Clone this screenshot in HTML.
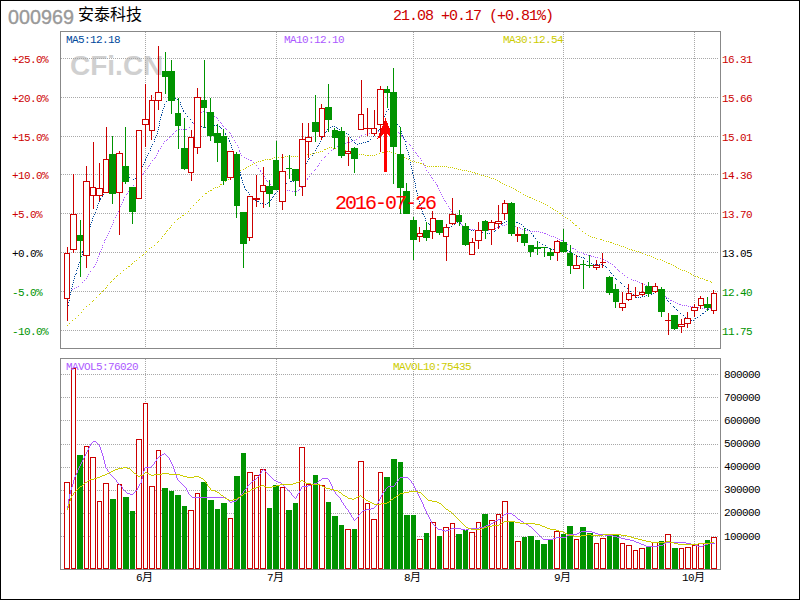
<!DOCTYPE html>
<html><head><meta charset="utf-8"><title>000969</title><style>html,body{margin:0;padding:0;background:#fff;overflow:hidden}svg text{white-space:pre}</style></head><body><svg width="800" height="600" viewBox="0 0 800 600" shape-rendering="crispEdges" style="display:block"><rect x="0" y="0" width="800" height="600" fill="#ffffff"/>
<rect x="0" y="0" width="800" height="1" fill="#000"/>
<rect x="0" y="599" width="800" height="1" fill="#000"/>
<rect x="0" y="0" width="1" height="600" fill="#000"/>
<rect x="799" y="0" width="1" height="600" fill="#000"/>
<rect x="60" y="31" width="661" height="1" fill="#888888"/>
<rect x="60" y="348" width="661" height="1" fill="#888888"/>
<rect x="60" y="31" width="1" height="318" fill="#888888"/>
<rect x="720" y="31" width="1" height="318" fill="#888888"/>
<rect x="60" y="358" width="661" height="1" fill="#888888"/>
<rect x="60" y="569" width="661" height="1" fill="#888888"/>
<rect x="60" y="358" width="1" height="212" fill="#888888"/>
<rect x="720" y="358" width="1" height="212" fill="#888888"/>
<text x="70" y="75" font-size="28" font-weight="bold" fill="#d0d0d0" font-family="'Liberation Sans', sans-serif">CFi.CN</text>
<path d="M61 58.5H718M61 97.5H718M61 136.5H718M61 174.5H718M61 213.5H718M61 252.5H718M61 291.5H718M61 330.5H718M61 374.5H718M61 397.5H718M61 420.5H718M61 444.5H718M61 467.5H718M61 490.5H718M61 513.5H718M61 536.5H718" stroke="#a8a8a8" stroke-width="1" stroke-dasharray="1 1" fill="none"/>
<path d="M145.5 32V348M145.5 359V569M276.5 32V348M276.5 359V569M413.5 32V348M413.5 359V569M563.5 32V348M563.5 359V569M694.5 32V348M694.5 359V569" stroke="#a8a8a8" stroke-width="1" stroke-dasharray="1 1" fill="none"/>
<path d="M171 98h1v1h-1zM173 98h1v1h-1zM175 98h1v1h-1zM170 99h1v1h-1zM177 99h1v1h-1zM166 101h1v1h-1zM180 102h1v1h-1zM164 104h1v1h-1zM180 104h1v1h-1zM164 106h1v1h-1zM181 106h1v1h-1zM163 108h1v1h-1zM182 108h1v1h-1zM390 108h1v1h-1zM388 109h1v1h-1zM391 109h1v1h-1zM162 110h1v1h-1zM183 110h1v1h-1zM183 111h1v1h-1zM386 111h1v1h-1zM392 111h1v1h-1zM162 112h1v1h-1zM185 113h1v1h-1zM393 113h1v1h-1zM161 114h1v1h-1zM385 114h1v1h-1zM161 115h1v1h-1zM394 115h1v1h-1zM187 116h1v1h-1zM384 116h1v1h-1zM160 117h1v1h-1zM394 117h1v1h-1zM383 118h1v1h-1zM160 119h1v1h-1zM190 119h1v1h-1zM395 119h1v1h-1zM382 120h1v1h-1zM159 121h1v1h-1zM396 121h1v1h-1zM192 122h1v1h-1zM396 122h1v1h-1zM159 123h1v1h-1zM194 123h1v1h-1zM381 123h1v1h-1zM195 124h1v1h-1zM397 124h1v1h-1zM159 125h1v1h-1zM198 125h2v1h-2zM214 125h1v1h-1zM216 125h1v1h-1zM380 125h1v1h-1zM201 126h1v1h-1zM212 126h1v1h-1zM219 126h1v1h-1zM332 126h1v1h-1zM334 126h1v1h-1zM399 126h1v1h-1zM158 127h1v1h-1zM203 127h1v1h-1zM205 127h1v1h-1zM207 127h1v1h-1zM209 127h1v1h-1zM211 127h1v1h-1zM220 127h1v1h-1zM330 127h1v1h-1zM336 127h1v1h-1zM380 127h1v1h-1zM400 127h1v1h-1zM221 128h1v1h-1zM328 128h1v1h-1zM337 128h1v1h-1zM158 129h1v1h-1zM327 129h1v1h-1zM339 129h1v1h-1zM379 129h1v1h-1zM400 129h1v1h-1zM341 130h1v1h-1zM378 130h1v1h-1zM157 131h1v1h-1zM223 131h1v1h-1zM326 131h1v1h-1zM343 131h1v1h-1zM401 131h1v1h-1zM325 132h1v1h-1zM157 133h1v1h-1zM225 133h1v1h-1zM346 133h1v1h-1zM375 133h1v1h-1zM401 133h1v1h-1zM225 134h1v1h-1zM324 134h1v1h-1zM348 134h1v1h-1zM156 135h1v1h-1zM402 135h1v1h-1zM226 136h1v1h-1zM323 136h1v1h-1zM373 136h1v1h-1zM155 137h1v1h-1zM322 137h1v1h-1zM350 137h1v1h-1zM403 137h1v1h-1zM228 138h1v1h-1zM154 139h1v1h-1zM321 139h1v1h-1zM351 139h1v1h-1zM370 139h1v1h-1zM404 139h1v1h-1zM229 140h1v1h-1zM352 140h1v1h-1zM154 141h1v1h-1zM229 141h1v1h-1zM320 141h1v1h-1zM367 141h2v1h-2zM405 141h1v1h-1zM354 142h1v1h-1zM363 142h1v1h-1zM365 142h1v1h-1zM230 143h1v1h-1zM319 143h1v1h-1zM355 143h1v1h-1zM359 143h1v1h-1zM361 143h1v1h-1zM152 144h1v1h-1zM357 144h1v1h-1zM405 144h1v1h-1zM231 145h1v1h-1zM318 145h1v1h-1zM151 146h1v1h-1zM317 146h1v1h-1zM406 146h1v1h-1zM231 147h1v1h-1zM150 148h1v1h-1zM316 148h1v1h-1zM406 148h1v1h-1zM232 149h1v1h-1zM150 150h1v1h-1zM315 150h1v1h-1zM407 150h1v1h-1zM233 151h1v1h-1zM408 152h1v1h-1zM148 153h1v1h-1zM233 153h1v1h-1zM313 153h1v1h-1zM408 154h1v1h-1zM147 155h1v1h-1zM234 155h1v1h-1zM312 155h1v1h-1zM409 156h1v1h-1zM146 157h1v1h-1zM235 157h1v1h-1zM309 158h1v1h-1zM409 158h1v1h-1zM145 159h1v1h-1zM235 159h1v1h-1zM308 159h1v1h-1zM145 160h1v1h-1zM236 160h1v1h-1zM410 160h1v1h-1zM307 161h1v1h-1zM144 162h1v1h-1zM236 162h1v1h-1zM410 162h1v1h-1zM306 163h1v1h-1zM143 164h1v1h-1zM237 164h1v1h-1zM410 164h1v1h-1zM304 165h1v1h-1zM142 166h1v1h-1zM238 166h1v1h-1zM304 166h1v1h-1zM411 166h1v1h-1zM238 168h1v1h-1zM302 168h1v1h-1zM411 168h1v1h-1zM140 169h1v1h-1zM239 170h1v1h-1zM301 170h1v1h-1zM412 170h1v1h-1zM139 171h1v1h-1zM300 171h1v1h-1zM240 172h1v1h-1zM412 172h1v1h-1zM138 173h1v1h-1zM299 173h1v1h-1zM412 173h1v1h-1zM240 174h1v1h-1zM137 175h1v1h-1zM240 175h1v1h-1zM413 175h1v1h-1zM136 176h1v1h-1zM297 176h1v1h-1zM127 177h1v1h-1zM129 177h1v1h-1zM241 177h1v1h-1zM413 177h1v1h-1zM123 178h1v1h-1zM125 178h1v1h-1zM135 178h1v1h-1zM241 178h1v1h-1zM295 178h1v1h-1zM122 179h1v1h-1zM133 179h1v1h-1zM295 179h1v1h-1zM414 179h1v1h-1zM242 180h1v1h-1zM119 181h1v1h-1zM290 181h2v1h-2zM293 181h1v1h-1zM414 181h1v1h-1zM242 182h1v1h-1zM117 183h1v1h-1zM286 183h1v1h-1zM415 183h1v1h-1zM243 184h1v1h-1zM114 185h1v1h-1zM415 185h1v1h-1zM112 186h1v1h-1zM244 186h1v1h-1zM283 186h1v1h-1zM244 187h1v1h-1zM415 187h1v1h-1zM109 188h1v1h-1zM280 188h1v1h-1zM245 189h1v1h-1zM246 190h1v1h-1zM416 190h1v1h-1zM106 191h1v1h-1zM277 191h1v1h-1zM416 191h1v1h-1zM248 192h1v1h-1zM275 193h1v1h-1zM417 193h1v1h-1zM103 194h1v1h-1zM249 194h1v1h-1zM274 194h1v1h-1zM417 195h1v1h-1zM102 196h1v1h-1zM273 196h1v1h-1zM252 197h1v1h-1zM272 197h1v1h-1zM418 197h1v1h-1zM100 198h1v1h-1zM100 199h1v1h-1zM271 199h1v1h-1zM418 199h1v1h-1zM255 200h1v1h-1zM270 200h1v1h-1zM99 201h1v1h-1zM257 201h2v1h-2zM419 201h1v1h-1zM268 202h1v1h-1zM98 203h1v1h-1zM260 203h1v1h-1zM262 203h1v1h-1zM267 203h1v1h-1zM419 203h1v1h-1zM263 204h1v1h-1zM265 204h1v1h-1zM97 205h1v1h-1zM420 205h1v1h-1zM97 207h1v1h-1zM421 207h1v1h-1zM96 209h1v1h-1zM421 209h1v1h-1zM422 211h1v1h-1zM95 212h1v1h-1zM422 213h1v1h-1zM94 214h1v1h-1zM423 214h1v1h-1zM93 216h1v1h-1zM424 216h1v1h-1zM92 218h1v1h-1zM425 218h1v1h-1zM92 220h1v1h-1zM425 220h1v1h-1zM506 221h1v1h-1zM508 221h1v1h-1zM510 221h1v1h-1zM512 221h1v1h-1zM91 222h1v1h-1zM457 222h1v1h-1zM459 222h1v1h-1zM504 222h1v1h-1zM514 222h1v1h-1zM516 222h2v1h-2zM428 223h1v1h-1zM455 223h1v1h-1zM460 223h1v1h-1zM502 223h1v1h-1zM519 223h1v1h-1zM90 224h1v1h-1zM429 224h1v1h-1zM454 224h1v1h-1zM501 224h1v1h-1zM521 224h1v1h-1zM462 225h1v1h-1zM90 226h1v1h-1zM431 226h1v1h-1zM451 226h1v1h-1zM464 226h1v1h-1zM499 226h1v1h-1zM523 226h1v1h-1zM449 227h1v1h-1zM498 227h1v1h-1zM434 228h1v1h-1zM447 228h1v1h-1zM467 228h1v1h-1zM525 228h1v1h-1zM89 229h1v1h-1zM436 229h1v1h-1zM438 229h1v1h-1zM440 229h1v1h-1zM442 229h1v1h-1zM444 229h2v1h-2zM469 229h1v1h-1zM527 229h1v1h-1zM471 230h1v1h-1zM473 230h1v1h-1zM475 230h1v1h-1zM477 230h1v1h-1zM495 230h1v1h-1zM529 230h1v1h-1zM88 231h1v1h-1zM479 231h1v1h-1zM494 231h1v1h-1zM482 232h1v1h-1zM88 233h1v1h-1zM485 233h1v1h-1zM487 233h1v1h-1zM489 233h1v1h-1zM491 233h1v1h-1zM531 233h1v1h-1zM87 235h1v1h-1zM533 235h1v1h-1zM533 236h1v1h-1zM86 237h1v1h-1zM535 238h1v1h-1zM86 239h1v1h-1zM85 241h1v1h-1zM537 241h1v1h-1zM539 242h1v1h-1zM85 243h1v1h-1zM542 244h1v1h-1zM84 245h1v1h-1zM545 245h1v1h-1zM84 247h1v1h-1zM547 247h1v1h-1zM549 248h1v1h-1zM83 249h1v1h-1zM551 249h1v1h-1zM553 249h1v1h-1zM555 249h1v1h-1zM557 249h1v1h-1zM560 250h2v1h-2zM563 250h1v1h-1zM565 250h1v1h-1zM567 250h1v1h-1zM82 251h1v1h-1zM569 251h1v1h-1zM82 252h1v1h-1zM571 252h1v1h-1zM82 254h1v1h-1zM574 254h1v1h-1zM576 255h1v1h-1zM81 256h1v1h-1zM577 256h1v1h-1zM579 256h1v1h-1zM581 257h1v1h-1zM583 257h1v1h-1zM80 258h1v1h-1zM584 258h1v1h-1zM80 260h1v1h-1zM587 261h1v1h-1zM79 262h1v1h-1zM589 262h1v1h-1zM591 263h1v1h-1zM78 264h1v1h-1zM593 264h1v1h-1zM595 264h1v1h-1zM597 264h1v1h-1zM599 264h1v1h-1zM601 264h1v1h-1zM603 265h1v1h-1zM78 266h1v1h-1zM605 266h1v1h-1zM606 267h1v1h-1zM77 268h1v1h-1zM76 270h1v1h-1zM609 270h1v1h-1zM610 272h1v1h-1zM76 273h1v1h-1zM611 273h1v1h-1zM75 274h1v1h-1zM613 275h1v1h-1zM74 276h1v1h-1zM74 278h1v1h-1zM615 278h1v1h-1zM616 279h1v1h-1zM73 280h1v1h-1zM73 282h1v1h-1zM620 282h1v1h-1zM621 283h1v1h-1zM72 284h1v1h-1zM72 286h1v1h-1zM624 286h1v1h-1zM71 288h1v1h-1zM627 288h1v1h-1zM71 290h1v1h-1zM630 291h1v1h-1zM657 291h1v1h-1zM70 292h1v1h-1zM655 292h1v1h-1zM658 292h1v1h-1zM631 293h1v1h-1zM653 293h1v1h-1zM660 293h1v1h-1zM70 294h1v1h-1zM633 294h1v1h-1zM651 294h1v1h-1zM634 295h1v1h-1zM646 295h1v1h-1zM648 295h1v1h-1zM663 295h1v1h-1zM69 296h1v1h-1zM642 296h1v1h-1zM644 296h1v1h-1zM636 297h1v1h-1zM638 297h1v1h-1zM640 297h1v1h-1zM69 298h1v1h-1zM666 298h1v1h-1zM69 300h1v1h-1zM667 300h1v1h-1zM668 301h1v1h-1zM68 302h1v1h-1zM670 303h1v1h-1zM68 305h1v1h-1zM673 306h1v1h-1zM674 307h1v1h-1zM712 307h1v1h-1zM710 308h1v1h-1zM676 309h1v1h-1zM708 309h1v1h-1zM677 310h1v1h-1zM705 311h1v1h-1zM680 313h1v1h-1zM702 313h2v1h-2zM683 315h1v1h-1zM700 315h1v1h-1zM685 317h1v1h-1zM697 317h1v1h-1zM695 318h1v1h-1zM688 319h1v1h-1zM690 320h2v1h-2zM693 320h1v1h-1z" fill="#00489c"/>
<path d="M203 111h1v1h-1zM201 112h1v1h-1zM206 112h1v1h-1zM209 113h1v1h-1zM211 114h1v1h-1zM199 115h1v1h-1zM214 116h1v1h-1zM197 117h1v1h-1zM216 117h1v1h-1zM197 118h1v1h-1zM217 118h1v1h-1zM195 120h1v1h-1zM218 120h1v1h-1zM194 122h1v1h-1zM220 122h1v1h-1zM193 123h1v1h-1zM221 123h1v1h-1zM222 125h1v1h-1zM223 126h1v1h-1zM189 127h1v1h-1zM225 128h1v1h-1zM178 129h2v1h-2zM181 129h1v1h-1zM183 129h1v1h-1zM185 129h2v1h-2zM226 129h1v1h-1zM176 130h1v1h-1zM380 130h2v1h-2zM383 130h1v1h-1zM385 130h1v1h-1zM387 130h1v1h-1zM389 130h1v1h-1zM391 130h1v1h-1zM394 130h1v1h-1zM175 131h1v1h-1zM375 131h2v1h-2zM378 131h1v1h-1zM396 131h1v1h-1zM229 132h1v1h-1zM373 132h1v1h-1zM398 132h1v1h-1zM173 133h1v1h-1zM230 133h1v1h-1zM367 133h1v1h-1zM369 133h1v1h-1zM371 133h1v1h-1zM399 133h1v1h-1zM172 134h1v1h-1zM365 134h1v1h-1zM231 135h1v1h-1zM361 135h1v1h-1zM401 135h1v1h-1zM170 136h1v1h-1zM402 136h1v1h-1zM169 137h1v1h-1zM232 137h1v1h-1zM359 137h1v1h-1zM403 138h1v1h-1zM167 139h1v1h-1zM356 139h1v1h-1zM166 140h1v1h-1zM234 140h1v1h-1zM354 140h1v1h-1zM164 141h1v1h-1zM351 141h1v1h-1zM406 141h1v1h-1zM235 142h1v1h-1zM347 142h1v1h-1zM349 142h1v1h-1zM163 143h1v1h-1zM344 143h2v1h-2zM342 144h1v1h-1zM409 144h1v1h-1zM237 145h1v1h-1zM340 145h1v1h-1zM410 145h1v1h-1zM161 146h1v1h-1zM337 146h1v1h-1zM238 147h1v1h-1zM160 148h1v1h-1zM335 148h1v1h-1zM412 148h1v1h-1zM333 149h1v1h-1zM158 150h1v1h-1zM239 150h1v1h-1zM331 150h1v1h-1zM413 150h1v1h-1zM158 151h1v1h-1zM239 151h1v1h-1zM415 152h1v1h-1zM157 153h1v1h-1zM240 153h1v1h-1zM328 153h1v1h-1zM416 153h1v1h-1zM156 155h1v1h-1zM241 155h1v1h-1zM417 155h1v1h-1zM325 156h1v1h-1zM418 156h1v1h-1zM155 157h1v1h-1zM244 157h1v1h-1zM324 157h1v1h-1zM154 158h1v1h-1zM246 158h1v1h-1zM420 158h1v1h-1zM248 159h1v1h-1zM152 160h1v1h-1zM250 160h2v1h-2zM321 160h1v1h-1zM421 160h1v1h-1zM253 162h1v1h-1zM150 163h1v1h-1zM254 163h1v1h-1zM319 163h1v1h-1zM423 163h1v1h-1zM149 165h1v1h-1zM256 165h1v1h-1zM318 165h1v1h-1zM424 165h1v1h-1zM148 166h1v1h-1zM317 166h1v1h-1zM425 167h1v1h-1zM147 168h1v1h-1zM258 168h1v1h-1zM315 169h1v1h-1zM260 170h1v1h-1zM314 170h1v1h-1zM426 170h1v1h-1zM144 171h1v1h-1zM260 171h1v1h-1zM428 172h1v1h-1zM143 173h1v1h-1zM262 173h1v1h-1zM311 173h1v1h-1zM142 174h1v1h-1zM263 175h1v1h-1zM430 175h1v1h-1zM141 176h1v1h-1zM264 176h1v1h-1zM309 176h1v1h-1zM140 177h1v1h-1zM431 177h1v1h-1zM265 178h1v1h-1zM307 178h1v1h-1zM432 178h1v1h-1zM138 179h1v1h-1zM307 179h1v1h-1zM266 180h1v1h-1zM305 180h1v1h-1zM433 180h1v1h-1zM267 181h1v1h-1zM136 182h1v1h-1zM304 182h1v1h-1zM435 182h1v1h-1zM270 184h1v1h-1zM303 184h1v1h-1zM436 184h1v1h-1zM133 185h1v1h-1zM302 185h1v1h-1zM437 185h1v1h-1zM272 186h2v1h-2zM437 186h1v1h-1zM301 187h1v1h-1zM131 188h1v1h-1zM275 188h1v1h-1zM277 188h1v1h-1zM438 188h1v1h-1zM279 189h1v1h-1zM299 189h1v1h-1zM129 190h1v1h-1zM281 190h1v1h-1zM283 190h1v1h-1zM285 190h1v1h-1zM287 190h1v1h-1zM289 190h1v1h-1zM298 190h1v1h-1zM439 190h1v1h-1zM128 191h1v1h-1zM292 191h1v1h-1zM294 191h1v1h-1zM296 191h1v1h-1zM440 192h1v1h-1zM127 193h1v1h-1zM126 194h1v1h-1zM441 194h1v1h-1zM442 196h1v1h-1zM124 197h1v1h-1zM443 198h1v1h-1zM123 199h1v1h-1zM123 200h1v1h-1zM444 200h1v1h-1zM445 201h1v1h-1zM122 202h1v1h-1zM446 203h1v1h-1zM121 204h1v1h-1zM120 206h1v1h-1zM448 206h1v1h-1zM119 208h1v1h-1zM449 208h1v1h-1zM119 209h1v1h-1zM450 209h1v1h-1zM118 211h1v1h-1zM451 211h1v1h-1zM117 213h1v1h-1zM453 214h1v1h-1zM116 215h1v1h-1zM455 216h1v1h-1zM115 217h1v1h-1zM456 218h1v1h-1zM457 219h1v1h-1zM113 220h1v1h-1zM113 222h1v1h-1zM460 222h1v1h-1zM112 224h1v1h-1zM461 224h1v1h-1zM506 224h1v1h-1zM462 225h1v1h-1zM502 225h1v1h-1zM504 225h1v1h-1zM508 225h1v1h-1zM510 225h1v1h-1zM512 225h1v1h-1zM111 226h1v1h-1zM464 226h1v1h-1zM515 226h1v1h-1zM466 227h1v1h-1zM497 227h1v1h-1zM499 227h1v1h-1zM517 227h1v1h-1zM519 227h1v1h-1zM110 228h1v1h-1zM468 228h1v1h-1zM495 228h1v1h-1zM520 228h1v1h-1zM470 229h1v1h-1zM472 229h1v1h-1zM474 229h1v1h-1zM489 229h1v1h-1zM491 229h1v1h-1zM493 229h1v1h-1zM522 229h1v1h-1zM524 229h1v1h-1zM476 230h1v1h-1zM478 230h1v1h-1zM480 230h1v1h-1zM482 230h1v1h-1zM484 230h1v1h-1zM486 230h1v1h-1zM488 230h1v1h-1zM525 230h1v1h-1zM527 230h1v1h-1zM109 231h1v1h-1zM530 231h1v1h-1zM532 231h1v1h-1zM534 231h1v1h-1zM536 231h1v1h-1zM538 231h1v1h-1zM540 232h1v1h-1zM542 232h1v1h-1zM108 233h1v1h-1zM544 233h2v1h-2zM547 234h1v1h-1zM107 235h1v1h-1zM549 235h1v1h-1zM551 236h1v1h-1zM553 236h1v1h-1zM106 237h1v1h-1zM555 237h1v1h-1zM557 238h1v1h-1zM105 239h1v1h-1zM559 239h1v1h-1zM104 240h1v1h-1zM561 240h2v1h-2zM104 242h1v1h-1zM564 242h1v1h-1zM567 244h1v1h-1zM102 245h1v1h-1zM570 246h1v1h-1zM102 247h1v1h-1zM572 248h2v1h-2zM101 249h1v1h-1zM575 249h1v1h-1zM100 251h1v1h-1zM577 251h1v1h-1zM579 252h1v1h-1zM581 252h1v1h-1zM99 253h1v1h-1zM583 253h1v1h-1zM99 254h1v1h-1zM584 254h1v1h-1zM586 254h1v1h-1zM588 255h1v1h-1zM590 255h1v1h-1zM98 256h1v1h-1zM591 256h1v1h-1zM593 256h1v1h-1zM595 257h1v1h-1zM597 257h1v1h-1zM97 258h1v1h-1zM600 258h1v1h-1zM603 259h1v1h-1zM97 260h1v1h-1zM605 260h1v1h-1zM607 261h1v1h-1zM96 262h1v1h-1zM608 262h1v1h-1zM610 263h1v1h-1zM95 264h1v1h-1zM612 264h1v1h-1zM94 266h1v1h-1zM614 266h1v1h-1zM93 267h1v1h-1zM615 267h1v1h-1zM617 269h1v1h-1zM618 270h1v1h-1zM90 271h1v1h-1zM619 271h1v1h-1zM622 273h1v1h-1zM88 274h1v1h-1zM624 275h1v1h-1zM87 276h1v1h-1zM627 277h1v1h-1zM86 278h1v1h-1zM631 279h1v1h-1zM84 280h1v1h-1zM633 280h1v1h-1zM635 280h1v1h-1zM637 281h1v1h-1zM82 282h1v1h-1zM639 282h1v1h-1zM641 283h1v1h-1zM644 284h1v1h-1zM646 285h1v1h-1zM78 286h1v1h-1zM648 286h1v1h-1zM76 287h1v1h-1zM650 287h1v1h-1zM74 288h1v1h-1zM652 288h2v1h-2zM72 289h1v1h-1zM655 289h1v1h-1zM657 290h1v1h-1zM660 292h1v1h-1zM662 294h2v1h-2zM665 296h1v1h-1zM666 297h1v1h-1zM668 298h1v1h-1zM670 300h2v1h-2zM673 301h1v1h-1zM675 302h1v1h-1zM677 303h1v1h-1zM679 304h2v1h-2zM682 305h1v1h-1zM684 305h1v1h-1zM686 305h1v1h-1zM688 306h1v1h-1zM690 306h1v1h-1zM692 306h1v1h-1zM694 307h1v1h-1zM696 307h1v1h-1zM698 307h1v1h-1zM712 307h1v1h-1zM700 308h1v1h-1zM702 308h1v1h-1zM704 308h1v1h-1zM708 308h1v1h-1zM710 308h1v1h-1zM706 309h1v1h-1z" fill="#ac59ff"/>
<path d="M329 147h1v1h-1zM331 147h1v1h-1zM327 148h1v1h-1zM333 148h1v1h-1zM335 148h1v1h-1zM324 149h2v1h-2zM338 149h1v1h-1zM340 149h1v1h-1zM342 150h1v1h-1zM345 150h1v1h-1zM320 151h1v1h-1zM322 151h1v1h-1zM347 151h1v1h-1zM349 151h1v1h-1zM387 151h1v1h-1zM389 151h1v1h-1zM316 152h1v1h-1zM318 152h1v1h-1zM351 152h1v1h-1zM353 152h1v1h-1zM382 152h2v1h-2zM385 152h1v1h-1zM391 152h1v1h-1zM312 153h1v1h-1zM314 153h1v1h-1zM355 153h1v1h-1zM357 153h1v1h-1zM379 153h1v1h-1zM393 153h1v1h-1zM395 153h1v1h-1zM307 154h1v1h-1zM310 154h1v1h-1zM359 154h1v1h-1zM361 154h1v1h-1zM363 154h1v1h-1zM376 154h1v1h-1zM397 154h1v1h-1zM303 155h1v1h-1zM305 155h1v1h-1zM365 155h1v1h-1zM367 155h2v1h-2zM370 155h1v1h-1zM372 155h1v1h-1zM374 155h1v1h-1zM399 155h1v1h-1zM285 156h1v1h-1zM287 156h1v1h-1zM289 156h1v1h-1zM291 156h1v1h-1zM293 156h1v1h-1zM295 156h1v1h-1zM297 156h1v1h-1zM299 156h1v1h-1zM301 156h1v1h-1zM401 156h2v1h-2zM274 157h1v1h-1zM276 157h1v1h-1zM278 157h1v1h-1zM281 157h1v1h-1zM283 157h1v1h-1zM404 157h1v1h-1zM272 158h1v1h-1zM406 158h1v1h-1zM265 159h1v1h-1zM267 159h1v1h-1zM269 159h2v1h-2zM408 159h1v1h-1zM262 160h2v1h-2zM410 160h1v1h-1zM258 161h1v1h-1zM260 161h1v1h-1zM412 161h1v1h-1zM414 161h1v1h-1zM256 162h1v1h-1zM416 162h1v1h-1zM418 162h1v1h-1zM254 163h1v1h-1zM420 163h2v1h-2zM252 164h1v1h-1zM423 164h1v1h-1zM250 165h1v1h-1zM425 165h1v1h-1zM248 166h1v1h-1zM427 166h1v1h-1zM429 166h1v1h-1zM431 166h1v1h-1zM433 166h1v1h-1zM435 166h2v1h-2zM438 166h1v1h-1zM440 166h1v1h-1zM442 166h1v1h-1zM444 166h1v1h-1zM446 166h1v1h-1zM246 167h1v1h-1zM448 167h1v1h-1zM450 167h1v1h-1zM452 167h1v1h-1zM245 168h1v1h-1zM454 168h1v1h-1zM456 168h1v1h-1zM243 169h1v1h-1zM458 169h1v1h-1zM460 169h1v1h-1zM240 170h1v1h-1zM462 170h1v1h-1zM464 170h1v1h-1zM466 170h1v1h-1zM468 171h1v1h-1zM470 171h1v1h-1zM237 172h2v1h-2zM472 172h1v1h-1zM474 172h1v1h-1zM475 173h1v1h-1zM477 173h1v1h-1zM235 174h1v1h-1zM479 174h1v1h-1zM481 175h1v1h-1zM483 175h1v1h-1zM232 176h1v1h-1zM485 176h1v1h-1zM487 176h1v1h-1zM489 177h1v1h-1zM230 178h1v1h-1zM491 178h1v1h-1zM493 178h1v1h-1zM228 179h1v1h-1zM495 179h1v1h-1zM497 180h1v1h-1zM225 181h1v1h-1zM499 181h1v1h-1zM223 182h1v1h-1zM500 182h1v1h-1zM502 183h1v1h-1zM220 184h2v1h-2zM504 184h1v1h-1zM506 185h1v1h-1zM219 186h1v1h-1zM509 186h1v1h-1zM215 187h1v1h-1zM217 187h1v1h-1zM511 187h1v1h-1zM213 188h1v1h-1zM513 188h1v1h-1zM515 189h1v1h-1zM210 190h2v1h-2zM516 190h1v1h-1zM208 191h1v1h-1zM518 191h1v1h-1zM520 192h1v1h-1zM205 193h2v1h-2zM523 194h1v1h-1zM525 195h1v1h-1zM202 196h1v1h-1zM527 196h1v1h-1zM529 197h2v1h-2zM532 198h1v1h-1zM199 199h1v1h-1zM534 199h1v1h-1zM198 200h1v1h-1zM536 200h1v1h-1zM539 201h1v1h-1zM196 202h1v1h-1zM541 202h1v1h-1zM543 203h1v1h-1zM545 204h1v1h-1zM193 205h1v1h-1zM547 205h1v1h-1zM550 207h1v1h-1zM190 208h1v1h-1zM552 208h1v1h-1zM553 209h1v1h-1zM555 210h1v1h-1zM188 211h1v1h-1zM557 211h1v1h-1zM185 213h1v1h-1zM559 213h2v1h-2zM182 215h2v1h-2zM562 215h1v1h-1zM180 217h1v1h-1zM565 217h1v1h-1zM178 218h1v1h-1zM567 218h1v1h-1zM177 219h1v1h-1zM570 220h1v1h-1zM174 222h1v1h-1zM572 222h1v1h-1zM573 223h1v1h-1zM171 225h1v1h-1zM575 225h2v1h-2zM170 227h1v1h-1zM169 228h1v1h-1zM579 228h1v1h-1zM167 230h1v1h-1zM166 231h1v1h-1zM582 231h1v1h-1zM165 233h1v1h-1zM585 233h1v1h-1zM164 234h1v1h-1zM588 235h1v1h-1zM162 236h1v1h-1zM590 236h1v1h-1zM592 237h1v1h-1zM594 237h1v1h-1zM161 238h1v1h-1zM596 238h1v1h-1zM600 239h2v1h-2zM603 240h1v1h-1zM158 241h1v1h-1zM606 241h1v1h-1zM608 241h1v1h-1zM157 242h1v1h-1zM610 242h2v1h-2zM613 243h1v1h-1zM615 244h1v1h-1zM617 244h1v1h-1zM154 245h1v1h-1zM619 245h1v1h-1zM621 246h1v1h-1zM623 246h1v1h-1zM151 247h1v1h-1zM625 247h1v1h-1zM149 248h1v1h-1zM627 248h1v1h-1zM629 249h1v1h-1zM631 249h1v1h-1zM632 250h1v1h-1zM634 250h1v1h-1zM146 251h1v1h-1zM636 251h1v1h-1zM638 251h1v1h-1zM145 252h1v1h-1zM640 252h1v1h-1zM642 253h1v1h-1zM143 254h1v1h-1zM645 254h1v1h-1zM142 255h1v1h-1zM647 255h1v1h-1zM649 255h1v1h-1zM651 256h1v1h-1zM139 257h1v1h-1zM653 257h1v1h-1zM655 258h1v1h-1zM657 259h1v1h-1zM660 259h1v1h-1zM136 260h1v1h-1zM662 260h1v1h-1zM134 261h1v1h-1zM664 261h1v1h-1zM666 262h1v1h-1zM132 263h1v1h-1zM668 263h2v1h-2zM131 264h1v1h-1zM671 264h1v1h-1zM673 265h1v1h-1zM128 266h2v1h-2zM675 266h1v1h-1zM676 267h1v1h-1zM126 268h1v1h-1zM678 268h1v1h-1zM680 269h1v1h-1zM123 270h1v1h-1zM682 270h1v1h-1zM684 270h1v1h-1zM686 271h1v1h-1zM688 272h1v1h-1zM120 273h1v1h-1zM690 273h1v1h-1zM691 274h1v1h-1zM117 275h1v1h-1zM693 275h1v1h-1zM116 276h1v1h-1zM695 276h1v1h-1zM697 276h1v1h-1zM698 277h1v1h-1zM114 278h1v1h-1zM700 278h1v1h-1zM702 278h1v1h-1zM113 279h1v1h-1zM704 279h1v1h-1zM706 280h2v1h-2zM111 281h1v1h-1zM710 281h1v1h-1zM110 282h1v1h-1zM711 282h1v1h-1zM107 285h1v1h-1zM106 287h1v1h-1zM105 288h1v1h-1zM103 290h1v1h-1zM102 291h1v1h-1zM100 293h1v1h-1zM99 294h1v1h-1zM96 297h1v1h-1zM93 300h1v1h-1zM92 301h1v1h-1zM89 304h1v1h-1zM86 306h1v1h-1zM83 309h1v1h-1zM81 312h1v1h-1zM78 315h1v1h-1zM75 318h1v1h-1zM72 320h1v1h-1zM69 323h1v1h-1zM67 325h1v1h-1z" fill="#cccc00"/>
<path d="M385.5 118L377 139.5L384 134V172H387V134L394 139.5Z" fill="#ff0000"/>
<rect x="67" y="247" width="1" height="6" fill="#cc0000"/>
<rect x="67" y="299" width="1" height="22" fill="#cc0000"/>
<rect x="64" y="253" width="6" height="46" fill="#cc0000"/>
<rect x="65" y="254" width="4" height="44" fill="#ffffff"/>
<rect x="73" y="174" width="1" height="40" fill="#cc0000"/>
<rect x="73" y="250" width="1" height="3" fill="#cc0000"/>
<rect x="70" y="214" width="7" height="36" fill="#cc0000"/>
<rect x="71" y="215" width="5" height="34" fill="#ffffff"/>
<rect x="80" y="220" width="1" height="57" fill="#009300"/>
<rect x="77" y="235" width="6" height="6" fill="#009300"/>
<rect x="86" y="166" width="1" height="15" fill="#cc0000"/>
<rect x="86" y="256" width="1" height="12" fill="#cc0000"/>
<rect x="83" y="181" width="7" height="75" fill="#cc0000"/>
<rect x="84" y="182" width="5" height="73" fill="#ffffff"/>
<rect x="93" y="142" width="1" height="45" fill="#cc0000"/>
<rect x="93" y="196" width="1" height="13" fill="#cc0000"/>
<rect x="90" y="187" width="6" height="9" fill="#cc0000"/>
<rect x="91" y="188" width="4" height="7" fill="#ffffff"/>
<rect x="99" y="163" width="1" height="25" fill="#cc0000"/>
<rect x="99" y="196" width="1" height="5" fill="#cc0000"/>
<rect x="96" y="188" width="7" height="8" fill="#cc0000"/>
<rect x="97" y="189" width="5" height="6" fill="#ffffff"/>
<rect x="106" y="127" width="1" height="32" fill="#cc0000"/>
<rect x="103" y="159" width="6" height="34" fill="#cc0000"/>
<rect x="104" y="160" width="4" height="32" fill="#ffffff"/>
<rect x="112" y="136" width="1" height="68" fill="#009300"/>
<rect x="109" y="154" width="7" height="40" fill="#009300"/>
<rect x="119" y="151" width="1" height="2" fill="#cc0000"/>
<rect x="119" y="193" width="1" height="42" fill="#cc0000"/>
<rect x="116" y="153" width="7" height="40" fill="#cc0000"/>
<rect x="117" y="154" width="5" height="38" fill="#ffffff"/>
<rect x="125" y="127" width="1" height="57" fill="#009300"/>
<rect x="122" y="166" width="7" height="16" fill="#009300"/>
<rect x="132" y="187" width="1" height="37" fill="#009300"/>
<rect x="129" y="187" width="7" height="25" fill="#009300"/>
<rect x="136" y="130" width="6" height="69" fill="#cc0000"/>
<rect x="137" y="131" width="4" height="67" fill="#ffffff"/>
<rect x="145" y="84" width="1" height="35" fill="#cc0000"/>
<rect x="145" y="125" width="1" height="22" fill="#cc0000"/>
<rect x="142" y="119" width="7" height="6" fill="#cc0000"/>
<rect x="143" y="120" width="5" height="4" fill="#ffffff"/>
<rect x="151" y="95" width="1" height="5" fill="#cc0000"/>
<rect x="151" y="131" width="1" height="9" fill="#cc0000"/>
<rect x="149" y="100" width="6" height="31" fill="#cc0000"/>
<rect x="150" y="101" width="4" height="29" fill="#ffffff"/>
<rect x="158" y="46" width="1" height="46" fill="#cc0000"/>
<rect x="158" y="101" width="1" height="9" fill="#cc0000"/>
<rect x="155" y="92" width="7" height="9" fill="#cc0000"/>
<rect x="156" y="93" width="5" height="7" fill="#ffffff"/>
<rect x="165" y="52" width="1" height="42" fill="#009300"/>
<rect x="162" y="71" width="6" height="6" fill="#009300"/>
<rect x="171" y="60" width="1" height="54" fill="#009300"/>
<rect x="168" y="71" width="7" height="30" fill="#009300"/>
<rect x="178" y="98" width="1" height="51" fill="#009300"/>
<rect x="175" y="113" width="6" height="13" fill="#009300"/>
<rect x="184" y="118" width="1" height="52" fill="#009300"/>
<rect x="181" y="148" width="7" height="21" fill="#009300"/>
<rect x="191" y="130" width="1" height="7" fill="#cc0000"/>
<rect x="191" y="173" width="1" height="8" fill="#cc0000"/>
<rect x="188" y="137" width="6" height="36" fill="#cc0000"/>
<rect x="189" y="138" width="4" height="34" fill="#ffffff"/>
<rect x="197" y="88" width="1" height="9" fill="#cc0000"/>
<rect x="197" y="148" width="1" height="6" fill="#cc0000"/>
<rect x="194" y="97" width="7" height="51" fill="#cc0000"/>
<rect x="195" y="98" width="5" height="49" fill="#ffffff"/>
<rect x="204" y="60" width="1" height="68" fill="#009300"/>
<rect x="201" y="100" width="6" height="8" fill="#009300"/>
<rect x="210" y="98" width="1" height="43" fill="#009300"/>
<rect x="207" y="112" width="7" height="24" fill="#009300"/>
<rect x="217" y="124" width="1" height="38" fill="#009300"/>
<rect x="214" y="133" width="7" height="10" fill="#009300"/>
<rect x="223" y="129" width="1" height="56" fill="#009300"/>
<rect x="221" y="136" width="6" height="45" fill="#009300"/>
<rect x="230" y="178" width="1" height="2" fill="#cc0000"/>
<rect x="227" y="151" width="7" height="27" fill="#cc0000"/>
<rect x="228" y="152" width="5" height="25" fill="#ffffff"/>
<rect x="236" y="152" width="1" height="66" fill="#009300"/>
<rect x="234" y="154" width="6" height="52" fill="#009300"/>
<rect x="243" y="212" width="1" height="56" fill="#009300"/>
<rect x="240" y="212" width="7" height="32" fill="#009300"/>
<rect x="249" y="238" width="1" height="3" fill="#cc0000"/>
<rect x="247" y="196" width="6" height="42" fill="#cc0000"/>
<rect x="248" y="197" width="4" height="40" fill="#ffffff"/>
<rect x="256" y="175" width="1" height="23" fill="#cc0000"/>
<rect x="256" y="200" width="1" height="7" fill="#cc0000"/>
<rect x="253" y="198" width="7" height="2" fill="#cc0000"/>
<rect x="263" y="167" width="1" height="18" fill="#cc0000"/>
<rect x="263" y="192" width="1" height="16" fill="#cc0000"/>
<rect x="260" y="185" width="6" height="7" fill="#cc0000"/>
<rect x="261" y="186" width="4" height="5" fill="#ffffff"/>
<rect x="269" y="180" width="1" height="27" fill="#009300"/>
<rect x="266" y="186" width="7" height="8" fill="#009300"/>
<rect x="276" y="141" width="1" height="49" fill="#009300"/>
<rect x="273" y="160" width="6" height="30" fill="#009300"/>
<rect x="282" y="154" width="1" height="17" fill="#cc0000"/>
<rect x="282" y="202" width="1" height="8" fill="#cc0000"/>
<rect x="279" y="171" width="7" height="31" fill="#cc0000"/>
<rect x="280" y="172" width="5" height="29" fill="#ffffff"/>
<rect x="289" y="155" width="1" height="24" fill="#009300"/>
<rect x="286" y="168" width="6" height="1" fill="#009300"/>
<rect x="295" y="169" width="1" height="27" fill="#009300"/>
<rect x="292" y="169" width="7" height="12" fill="#009300"/>
<rect x="302" y="123" width="1" height="16" fill="#cc0000"/>
<rect x="302" y="187" width="1" height="9" fill="#cc0000"/>
<rect x="299" y="139" width="7" height="48" fill="#cc0000"/>
<rect x="300" y="140" width="5" height="46" fill="#ffffff"/>
<rect x="308" y="123" width="1" height="14" fill="#cc0000"/>
<rect x="308" y="142" width="1" height="16" fill="#cc0000"/>
<rect x="305" y="137" width="7" height="5" fill="#cc0000"/>
<rect x="306" y="138" width="5" height="3" fill="#ffffff"/>
<rect x="315" y="95" width="1" height="47" fill="#009300"/>
<rect x="312" y="122" width="7" height="10" fill="#009300"/>
<rect x="321" y="104" width="1" height="4" fill="#cc0000"/>
<rect x="321" y="137" width="1" height="3" fill="#cc0000"/>
<rect x="319" y="108" width="6" height="29" fill="#cc0000"/>
<rect x="320" y="109" width="4" height="27" fill="#ffffff"/>
<rect x="328" y="84" width="1" height="48" fill="#009300"/>
<rect x="325" y="107" width="7" height="13" fill="#009300"/>
<rect x="334" y="128" width="1" height="21" fill="#009300"/>
<rect x="332" y="130" width="6" height="8" fill="#009300"/>
<rect x="341" y="127" width="1" height="31" fill="#009300"/>
<rect x="338" y="131" width="7" height="25" fill="#009300"/>
<rect x="348" y="137" width="1" height="14" fill="#cc0000"/>
<rect x="348" y="154" width="1" height="12" fill="#cc0000"/>
<rect x="345" y="151" width="6" height="3" fill="#cc0000"/>
<rect x="346" y="152" width="4" height="1" fill="#ffffff"/>
<rect x="354" y="147" width="1" height="26" fill="#009300"/>
<rect x="351" y="148" width="7" height="11" fill="#009300"/>
<rect x="361" y="80" width="1" height="34" fill="#cc0000"/>
<rect x="358" y="114" width="6" height="16" fill="#cc0000"/>
<rect x="359" y="115" width="4" height="14" fill="#ffffff"/>
<rect x="367" y="108" width="1" height="20" fill="#cc0000"/>
<rect x="367" y="129" width="1" height="7" fill="#cc0000"/>
<rect x="364" y="128" width="7" height="1" fill="#cc0000"/>
<rect x="374" y="110" width="1" height="18" fill="#cc0000"/>
<rect x="374" y="134" width="1" height="2" fill="#cc0000"/>
<rect x="371" y="128" width="6" height="6" fill="#cc0000"/>
<rect x="372" y="129" width="4" height="4" fill="#ffffff"/>
<rect x="380" y="86" width="1" height="3" fill="#cc0000"/>
<rect x="380" y="125" width="1" height="27" fill="#cc0000"/>
<rect x="377" y="89" width="7" height="36" fill="#cc0000"/>
<rect x="378" y="90" width="5" height="34" fill="#ffffff"/>
<rect x="387" y="86" width="1" height="22" fill="#009300"/>
<rect x="384" y="89" width="6" height="4" fill="#009300"/>
<rect x="393" y="68" width="1" height="116" fill="#009300"/>
<rect x="390" y="92" width="7" height="55" fill="#009300"/>
<rect x="400" y="127" width="1" height="87" fill="#009300"/>
<rect x="397" y="154" width="7" height="34" fill="#009300"/>
<rect x="406" y="183" width="1" height="31" fill="#009300"/>
<rect x="403" y="191" width="7" height="23" fill="#009300"/>
<rect x="413" y="217" width="1" height="43" fill="#009300"/>
<rect x="410" y="220" width="7" height="20" fill="#009300"/>
<rect x="419" y="227" width="1" height="6" fill="#cc0000"/>
<rect x="419" y="237" width="1" height="5" fill="#cc0000"/>
<rect x="417" y="233" width="6" height="4" fill="#cc0000"/>
<rect x="418" y="234" width="4" height="2" fill="#ffffff"/>
<rect x="426" y="222" width="1" height="19" fill="#009300"/>
<rect x="423" y="230" width="7" height="8" fill="#009300"/>
<rect x="432" y="211" width="1" height="7" fill="#cc0000"/>
<rect x="432" y="232" width="1" height="7" fill="#cc0000"/>
<rect x="430" y="218" width="6" height="14" fill="#cc0000"/>
<rect x="431" y="219" width="4" height="12" fill="#ffffff"/>
<rect x="439" y="220" width="1" height="15" fill="#009300"/>
<rect x="436" y="220" width="7" height="13" fill="#009300"/>
<rect x="446" y="224" width="1" height="3" fill="#cc0000"/>
<rect x="446" y="237" width="1" height="24" fill="#cc0000"/>
<rect x="443" y="227" width="6" height="10" fill="#cc0000"/>
<rect x="444" y="228" width="4" height="8" fill="#ffffff"/>
<rect x="452" y="198" width="1" height="16" fill="#cc0000"/>
<rect x="452" y="224" width="1" height="1" fill="#cc0000"/>
<rect x="449" y="214" width="7" height="10" fill="#cc0000"/>
<rect x="450" y="215" width="5" height="8" fill="#ffffff"/>
<rect x="459" y="210" width="1" height="16" fill="#009300"/>
<rect x="456" y="215" width="6" height="7" fill="#009300"/>
<rect x="465" y="223" width="1" height="23" fill="#009300"/>
<rect x="462" y="226" width="7" height="19" fill="#009300"/>
<rect x="472" y="238" width="1" height="4" fill="#cc0000"/>
<rect x="469" y="242" width="6" height="13" fill="#cc0000"/>
<rect x="470" y="243" width="4" height="11" fill="#ffffff"/>
<rect x="478" y="222" width="1" height="8" fill="#cc0000"/>
<rect x="478" y="241" width="1" height="8" fill="#cc0000"/>
<rect x="475" y="230" width="7" height="11" fill="#cc0000"/>
<rect x="476" y="231" width="5" height="9" fill="#ffffff"/>
<rect x="485" y="220" width="1" height="19" fill="#009300"/>
<rect x="482" y="221" width="6" height="10" fill="#009300"/>
<rect x="491" y="220" width="1" height="2" fill="#cc0000"/>
<rect x="491" y="230" width="1" height="15" fill="#cc0000"/>
<rect x="488" y="222" width="7" height="8" fill="#cc0000"/>
<rect x="489" y="223" width="5" height="6" fill="#ffffff"/>
<rect x="498" y="205" width="1" height="16" fill="#cc0000"/>
<rect x="498" y="224" width="1" height="5" fill="#cc0000"/>
<rect x="495" y="221" width="7" height="3" fill="#cc0000"/>
<rect x="496" y="222" width="5" height="1" fill="#ffffff"/>
<rect x="504" y="200" width="1" height="3" fill="#cc0000"/>
<rect x="504" y="214" width="1" height="6" fill="#cc0000"/>
<rect x="502" y="203" width="6" height="11" fill="#cc0000"/>
<rect x="503" y="204" width="4" height="9" fill="#ffffff"/>
<rect x="511" y="202" width="1" height="34" fill="#009300"/>
<rect x="508" y="203" width="7" height="31" fill="#009300"/>
<rect x="517" y="227" width="1" height="7" fill="#cc0000"/>
<rect x="517" y="236" width="1" height="6" fill="#cc0000"/>
<rect x="515" y="234" width="6" height="2" fill="#cc0000"/>
<rect x="524" y="228" width="1" height="18" fill="#009300"/>
<rect x="521" y="234" width="7" height="9" fill="#009300"/>
<rect x="530" y="245" width="1" height="12" fill="#009300"/>
<rect x="528" y="245" width="6" height="7" fill="#009300"/>
<rect x="537" y="241" width="1" height="14" fill="#009300"/>
<rect x="534" y="247" width="7" height="2" fill="#009300"/>
<rect x="544" y="247" width="1" height="10" fill="#009300"/>
<rect x="541" y="247" width="6" height="1" fill="#009300"/>
<rect x="550" y="248" width="1" height="12" fill="#009300"/>
<rect x="547" y="252" width="7" height="4" fill="#009300"/>
<rect x="557" y="240" width="1" height="1" fill="#cc0000"/>
<rect x="557" y="253" width="1" height="8" fill="#cc0000"/>
<rect x="554" y="241" width="6" height="12" fill="#cc0000"/>
<rect x="555" y="242" width="4" height="10" fill="#ffffff"/>
<rect x="563" y="229" width="1" height="24" fill="#009300"/>
<rect x="560" y="242" width="7" height="10" fill="#009300"/>
<rect x="570" y="245" width="1" height="29" fill="#009300"/>
<rect x="567" y="253" width="6" height="13" fill="#009300"/>
<rect x="576" y="255" width="1" height="10" fill="#cc0000"/>
<rect x="573" y="265" width="7" height="4" fill="#cc0000"/>
<rect x="574" y="266" width="5" height="2" fill="#ffffff"/>
<rect x="583" y="260" width="1" height="29" fill="#009300"/>
<rect x="580" y="264" width="6" height="1" fill="#009300"/>
<rect x="589" y="255" width="1" height="13" fill="#009300"/>
<rect x="586" y="265" width="7" height="1" fill="#009300"/>
<rect x="596" y="260" width="1" height="5" fill="#cc0000"/>
<rect x="596" y="268" width="1" height="2" fill="#cc0000"/>
<rect x="593" y="265" width="7" height="3" fill="#cc0000"/>
<rect x="594" y="266" width="5" height="1" fill="#ffffff"/>
<rect x="602" y="253" width="1" height="9" fill="#cc0000"/>
<rect x="602" y="263" width="1" height="5" fill="#cc0000"/>
<rect x="600" y="262" width="6" height="1" fill="#cc0000"/>
<rect x="609" y="276" width="1" height="19" fill="#009300"/>
<rect x="606" y="277" width="7" height="16" fill="#009300"/>
<rect x="615" y="284" width="1" height="24" fill="#009300"/>
<rect x="613" y="289" width="6" height="13" fill="#009300"/>
<rect x="622" y="292" width="1" height="11" fill="#cc0000"/>
<rect x="622" y="308" width="1" height="3" fill="#cc0000"/>
<rect x="619" y="303" width="7" height="5" fill="#cc0000"/>
<rect x="620" y="304" width="5" height="3" fill="#ffffff"/>
<rect x="628" y="284" width="1" height="9" fill="#cc0000"/>
<rect x="628" y="300" width="1" height="1" fill="#cc0000"/>
<rect x="626" y="293" width="6" height="7" fill="#cc0000"/>
<rect x="627" y="294" width="4" height="5" fill="#ffffff"/>
<rect x="635" y="287" width="1" height="8" fill="#cc0000"/>
<rect x="635" y="296" width="1" height="2" fill="#cc0000"/>
<rect x="632" y="295" width="7" height="1" fill="#cc0000"/>
<rect x="642" y="283" width="1" height="9" fill="#cc0000"/>
<rect x="642" y="295" width="1" height="1" fill="#cc0000"/>
<rect x="639" y="292" width="6" height="3" fill="#cc0000"/>
<rect x="640" y="293" width="4" height="1" fill="#ffffff"/>
<rect x="648" y="282" width="1" height="15" fill="#009300"/>
<rect x="645" y="286" width="7" height="8" fill="#009300"/>
<rect x="655" y="283" width="1" height="3" fill="#cc0000"/>
<rect x="655" y="292" width="1" height="1" fill="#cc0000"/>
<rect x="652" y="286" width="6" height="6" fill="#cc0000"/>
<rect x="653" y="287" width="4" height="4" fill="#ffffff"/>
<rect x="661" y="287" width="1" height="30" fill="#009300"/>
<rect x="658" y="289" width="7" height="23" fill="#009300"/>
<rect x="668" y="313" width="1" height="7" fill="#cc0000"/>
<rect x="668" y="321" width="1" height="14" fill="#cc0000"/>
<rect x="665" y="320" width="6" height="1" fill="#cc0000"/>
<rect x="674" y="315" width="1" height="15" fill="#009300"/>
<rect x="671" y="315" width="7" height="14" fill="#009300"/>
<rect x="681" y="319" width="1" height="5" fill="#cc0000"/>
<rect x="681" y="327" width="1" height="6" fill="#cc0000"/>
<rect x="678" y="324" width="7" height="3" fill="#cc0000"/>
<rect x="679" y="325" width="5" height="1" fill="#ffffff"/>
<rect x="687" y="312" width="1" height="6" fill="#cc0000"/>
<rect x="687" y="324" width="1" height="4" fill="#cc0000"/>
<rect x="684" y="318" width="7" height="6" fill="#cc0000"/>
<rect x="685" y="319" width="5" height="4" fill="#ffffff"/>
<rect x="694" y="304" width="1" height="3" fill="#cc0000"/>
<rect x="694" y="311" width="1" height="6" fill="#cc0000"/>
<rect x="691" y="307" width="7" height="4" fill="#cc0000"/>
<rect x="692" y="308" width="5" height="2" fill="#ffffff"/>
<rect x="700" y="296" width="1" height="2" fill="#cc0000"/>
<rect x="700" y="306" width="1" height="3" fill="#cc0000"/>
<rect x="698" y="298" width="6" height="8" fill="#cc0000"/>
<rect x="699" y="299" width="4" height="6" fill="#ffffff"/>
<rect x="707" y="297" width="1" height="14" fill="#009300"/>
<rect x="704" y="304" width="7" height="4" fill="#009300"/>
<rect x="713" y="290" width="1" height="3" fill="#cc0000"/>
<rect x="713" y="311" width="1" height="3" fill="#cc0000"/>
<rect x="711" y="293" width="6" height="18" fill="#cc0000"/>
<rect x="712" y="294" width="4" height="16" fill="#ffffff"/>
<rect x="64" y="482" width="6" height="87" fill="#cc0000"/>
<rect x="65" y="483" width="4" height="85" fill="#ffffff"/>
<rect x="71" y="368" width="5" height="201" fill="#cc0000"/>
<rect x="72" y="369" width="3" height="199" fill="#ffffff"/>
<rect x="77" y="455" width="6" height="114" fill="#009300"/>
<rect x="84" y="446" width="5" height="123" fill="#cc0000"/>
<rect x="85" y="447" width="3" height="121" fill="#ffffff"/>
<rect x="90" y="457" width="6" height="112" fill="#cc0000"/>
<rect x="91" y="458" width="4" height="110" fill="#ffffff"/>
<rect x="97" y="501" width="5" height="68" fill="#cc0000"/>
<rect x="98" y="502" width="3" height="66" fill="#ffffff"/>
<rect x="103" y="483" width="6" height="86" fill="#cc0000"/>
<rect x="104" y="484" width="4" height="84" fill="#ffffff"/>
<rect x="110" y="499" width="6" height="70" fill="#009300"/>
<rect x="117" y="484" width="5" height="85" fill="#cc0000"/>
<rect x="118" y="485" width="3" height="83" fill="#ffffff"/>
<rect x="123" y="497" width="6" height="72" fill="#009300"/>
<rect x="130" y="511" width="5" height="58" fill="#009300"/>
<rect x="136" y="439" width="6" height="130" fill="#cc0000"/>
<rect x="137" y="440" width="4" height="128" fill="#ffffff"/>
<rect x="143" y="403" width="5" height="166" fill="#cc0000"/>
<rect x="144" y="404" width="3" height="164" fill="#ffffff"/>
<rect x="149" y="486" width="6" height="83" fill="#cc0000"/>
<rect x="150" y="487" width="4" height="81" fill="#ffffff"/>
<rect x="156" y="450" width="5" height="119" fill="#cc0000"/>
<rect x="157" y="451" width="3" height="117" fill="#ffffff"/>
<rect x="162" y="488" width="6" height="81" fill="#009300"/>
<rect x="169" y="491" width="5" height="78" fill="#009300"/>
<rect x="175" y="495" width="6" height="74" fill="#009300"/>
<rect x="182" y="506" width="5" height="63" fill="#009300"/>
<rect x="188" y="510" width="6" height="59" fill="#cc0000"/>
<rect x="189" y="511" width="4" height="57" fill="#ffffff"/>
<rect x="195" y="493" width="5" height="76" fill="#cc0000"/>
<rect x="196" y="494" width="3" height="74" fill="#ffffff"/>
<rect x="201" y="482" width="6" height="87" fill="#009300"/>
<rect x="208" y="500" width="6" height="69" fill="#009300"/>
<rect x="215" y="509" width="5" height="60" fill="#009300"/>
<rect x="221" y="503" width="6" height="66" fill="#009300"/>
<rect x="228" y="518" width="5" height="51" fill="#cc0000"/>
<rect x="229" y="519" width="3" height="49" fill="#ffffff"/>
<rect x="234" y="476" width="6" height="93" fill="#009300"/>
<rect x="241" y="453" width="5" height="116" fill="#009300"/>
<rect x="247" y="472" width="6" height="97" fill="#cc0000"/>
<rect x="248" y="473" width="4" height="95" fill="#ffffff"/>
<rect x="254" y="475" width="5" height="94" fill="#cc0000"/>
<rect x="255" y="476" width="3" height="92" fill="#ffffff"/>
<rect x="260" y="469" width="6" height="100" fill="#cc0000"/>
<rect x="261" y="470" width="4" height="98" fill="#ffffff"/>
<rect x="267" y="508" width="5" height="61" fill="#009300"/>
<rect x="273" y="485" width="6" height="84" fill="#009300"/>
<rect x="280" y="487" width="5" height="82" fill="#cc0000"/>
<rect x="281" y="488" width="3" height="80" fill="#ffffff"/>
<rect x="286" y="510" width="6" height="59" fill="#009300"/>
<rect x="293" y="503" width="5" height="66" fill="#009300"/>
<rect x="299" y="447" width="6" height="122" fill="#cc0000"/>
<rect x="300" y="448" width="4" height="120" fill="#ffffff"/>
<rect x="306" y="484" width="6" height="85" fill="#cc0000"/>
<rect x="307" y="485" width="4" height="83" fill="#ffffff"/>
<rect x="313" y="475" width="5" height="94" fill="#009300"/>
<rect x="319" y="485" width="6" height="84" fill="#cc0000"/>
<rect x="320" y="486" width="4" height="82" fill="#ffffff"/>
<rect x="326" y="502" width="5" height="67" fill="#009300"/>
<rect x="332" y="516" width="6" height="53" fill="#009300"/>
<rect x="339" y="525" width="5" height="44" fill="#009300"/>
<rect x="345" y="529" width="6" height="40" fill="#cc0000"/>
<rect x="346" y="530" width="4" height="38" fill="#ffffff"/>
<rect x="352" y="529" width="5" height="40" fill="#009300"/>
<rect x="358" y="461" width="6" height="108" fill="#cc0000"/>
<rect x="359" y="462" width="4" height="106" fill="#ffffff"/>
<rect x="365" y="503" width="5" height="66" fill="#cc0000"/>
<rect x="366" y="504" width="3" height="64" fill="#ffffff"/>
<rect x="371" y="519" width="6" height="50" fill="#cc0000"/>
<rect x="372" y="520" width="4" height="48" fill="#ffffff"/>
<rect x="378" y="472" width="5" height="97" fill="#cc0000"/>
<rect x="379" y="473" width="3" height="95" fill="#ffffff"/>
<rect x="384" y="477" width="6" height="92" fill="#009300"/>
<rect x="391" y="459" width="6" height="110" fill="#009300"/>
<rect x="398" y="462" width="5" height="107" fill="#009300"/>
<rect x="404" y="515" width="6" height="54" fill="#009300"/>
<rect x="411" y="515" width="5" height="54" fill="#009300"/>
<rect x="417" y="539" width="6" height="30" fill="#cc0000"/>
<rect x="418" y="540" width="4" height="28" fill="#ffffff"/>
<rect x="424" y="533" width="5" height="36" fill="#009300"/>
<rect x="430" y="522" width="6" height="47" fill="#cc0000"/>
<rect x="431" y="523" width="4" height="45" fill="#ffffff"/>
<rect x="437" y="536" width="5" height="33" fill="#009300"/>
<rect x="443" y="527" width="6" height="42" fill="#cc0000"/>
<rect x="444" y="528" width="4" height="40" fill="#ffffff"/>
<rect x="450" y="523" width="5" height="46" fill="#cc0000"/>
<rect x="451" y="524" width="3" height="44" fill="#ffffff"/>
<rect x="456" y="534" width="6" height="35" fill="#009300"/>
<rect x="463" y="530" width="5" height="39" fill="#009300"/>
<rect x="469" y="532" width="6" height="37" fill="#cc0000"/>
<rect x="470" y="533" width="4" height="35" fill="#ffffff"/>
<rect x="476" y="522" width="5" height="47" fill="#cc0000"/>
<rect x="477" y="523" width="3" height="45" fill="#ffffff"/>
<rect x="482" y="514" width="6" height="55" fill="#009300"/>
<rect x="489" y="520" width="6" height="49" fill="#cc0000"/>
<rect x="490" y="521" width="4" height="47" fill="#ffffff"/>
<rect x="496" y="514" width="5" height="55" fill="#cc0000"/>
<rect x="497" y="515" width="3" height="53" fill="#ffffff"/>
<rect x="502" y="501" width="6" height="68" fill="#cc0000"/>
<rect x="503" y="502" width="4" height="66" fill="#ffffff"/>
<rect x="509" y="522" width="5" height="47" fill="#009300"/>
<rect x="515" y="541" width="6" height="28" fill="#cc0000"/>
<rect x="516" y="542" width="4" height="26" fill="#ffffff"/>
<rect x="522" y="537" width="5" height="32" fill="#009300"/>
<rect x="528" y="536" width="6" height="33" fill="#009300"/>
<rect x="535" y="540" width="5" height="29" fill="#009300"/>
<rect x="541" y="544" width="6" height="25" fill="#009300"/>
<rect x="548" y="540" width="5" height="29" fill="#009300"/>
<rect x="554" y="531" width="6" height="38" fill="#cc0000"/>
<rect x="555" y="532" width="4" height="36" fill="#ffffff"/>
<rect x="561" y="534" width="5" height="35" fill="#009300"/>
<rect x="567" y="526" width="6" height="43" fill="#009300"/>
<rect x="574" y="539" width="5" height="30" fill="#cc0000"/>
<rect x="575" y="540" width="3" height="28" fill="#ffffff"/>
<rect x="580" y="527" width="6" height="42" fill="#009300"/>
<rect x="587" y="533" width="6" height="36" fill="#009300"/>
<rect x="594" y="543" width="5" height="26" fill="#cc0000"/>
<rect x="595" y="544" width="3" height="24" fill="#ffffff"/>
<rect x="600" y="538" width="6" height="31" fill="#cc0000"/>
<rect x="601" y="539" width="4" height="29" fill="#ffffff"/>
<rect x="607" y="535" width="5" height="34" fill="#009300"/>
<rect x="613" y="535" width="6" height="34" fill="#009300"/>
<rect x="620" y="543" width="5" height="26" fill="#cc0000"/>
<rect x="621" y="544" width="3" height="24" fill="#ffffff"/>
<rect x="626" y="545" width="6" height="24" fill="#cc0000"/>
<rect x="627" y="546" width="4" height="22" fill="#ffffff"/>
<rect x="633" y="550" width="5" height="19" fill="#cc0000"/>
<rect x="634" y="551" width="3" height="17" fill="#ffffff"/>
<rect x="639" y="548" width="6" height="21" fill="#cc0000"/>
<rect x="640" y="549" width="4" height="19" fill="#ffffff"/>
<rect x="646" y="546" width="5" height="23" fill="#009300"/>
<rect x="652" y="542" width="6" height="27" fill="#cc0000"/>
<rect x="653" y="543" width="4" height="25" fill="#ffffff"/>
<rect x="659" y="541" width="5" height="28" fill="#009300"/>
<rect x="665" y="534" width="6" height="35" fill="#cc0000"/>
<rect x="666" y="535" width="4" height="33" fill="#ffffff"/>
<rect x="672" y="548" width="6" height="21" fill="#009300"/>
<rect x="679" y="548" width="5" height="21" fill="#cc0000"/>
<rect x="680" y="549" width="3" height="19" fill="#ffffff"/>
<rect x="685" y="547" width="6" height="22" fill="#cc0000"/>
<rect x="686" y="548" width="4" height="20" fill="#ffffff"/>
<rect x="692" y="545" width="5" height="24" fill="#cc0000"/>
<rect x="693" y="546" width="3" height="22" fill="#ffffff"/>
<rect x="698" y="543" width="6" height="26" fill="#cc0000"/>
<rect x="699" y="544" width="4" height="24" fill="#ffffff"/>
<rect x="705" y="540" width="5" height="29" fill="#009300"/>
<rect x="711" y="537" width="6" height="32" fill="#cc0000"/>
<rect x="712" y="538" width="4" height="30" fill="#ffffff"/>
<path d="M93 441h3v1h-3zM92 442h1v1h-1zM96 442h1v1h-1zM91 443h1v1h-1zM97 443h1v1h-1zM90 444h1v1h-1zM98 444h1v1h-1zM90 445h1v1h-1zM99 445h1v1h-1zM89 446h1v1h-1zM99 446h1v1h-1zM89 447h1v1h-1zM100 447h1v1h-1zM88 448h1v1h-1zM100 448h1v1h-1zM88 449h1v1h-1zM100 449h1v1h-1zM87 450h1v1h-1zM101 450h1v1h-1zM87 451h1v1h-1zM101 451h1v1h-1zM86 452h1v1h-1zM101 452h1v1h-1zM86 453h1v1h-1zM102 453h1v1h-1zM164 453h1v1h-1zM85 454h1v1h-1zM102 454h1v1h-1zM162 454h2v1h-2zM165 454h1v1h-1zM85 455h1v1h-1zM102 455h1v1h-1zM161 455h1v1h-1zM166 455h1v1h-1zM84 456h1v1h-1zM103 456h1v1h-1zM159 456h2v1h-2zM167 456h1v1h-1zM84 457h1v1h-1zM103 457h1v1h-1zM158 457h1v1h-1zM168 457h1v1h-1zM83 458h1v1h-1zM103 458h1v1h-1zM157 458h1v1h-1zM169 458h1v1h-1zM83 459h1v1h-1zM103 459h1v1h-1zM156 459h1v1h-1zM169 459h1v1h-1zM82 460h1v1h-1zM104 460h1v1h-1zM156 460h1v1h-1zM170 460h1v1h-1zM82 461h1v1h-1zM104 461h1v1h-1zM155 461h1v1h-1zM170 461h1v1h-1zM81 462h1v1h-1zM104 462h1v1h-1zM154 462h1v1h-1zM171 462h1v1h-1zM81 463h1v1h-1zM104 463h1v1h-1zM154 463h1v1h-1zM171 463h1v1h-1zM80 464h1v1h-1zM105 464h1v1h-1zM153 464h1v1h-1zM172 464h1v1h-1zM80 465h1v1h-1zM105 465h1v1h-1zM152 465h1v1h-1zM172 465h1v1h-1zM79 466h1v1h-1zM105 466h1v1h-1zM151 466h1v1h-1zM173 466h1v1h-1zM79 467h1v1h-1zM105 467h1v1h-1zM145 467h6v1h-6zM173 467h1v1h-1zM78 468h1v1h-1zM106 468h1v1h-1zM144 468h1v1h-1zM173 468h1v1h-1zM78 469h1v1h-1zM107 469h1v1h-1zM144 469h1v1h-1zM174 469h1v1h-1zM263 469h1v1h-1zM77 470h1v1h-1zM107 470h1v1h-1zM144 470h1v1h-1zM174 470h1v1h-1zM262 470h1v1h-1zM264 470h1v1h-1zM77 471h1v1h-1zM108 471h1v1h-1zM143 471h1v1h-1zM174 471h1v1h-1zM261 471h1v1h-1zM265 471h1v1h-1zM77 472h1v1h-1zM109 472h1v1h-1zM143 472h1v1h-1zM175 472h1v1h-1zM261 472h1v1h-1zM266 472h1v1h-1zM76 473h1v1h-1zM109 473h1v1h-1zM143 473h1v1h-1zM175 473h1v1h-1zM260 473h1v1h-1zM267 473h1v1h-1zM76 474h1v1h-1zM110 474h1v1h-1zM143 474h1v1h-1zM175 474h1v1h-1zM259 474h1v1h-1zM268 474h1v1h-1zM75 475h1v1h-1zM111 475h1v1h-1zM142 475h1v1h-1zM176 475h1v1h-1zM259 475h1v1h-1zM269 475h1v1h-1zM75 476h1v1h-1zM112 476h1v1h-1zM142 476h1v1h-1zM176 476h1v1h-1zM258 476h1v1h-1zM270 476h1v1h-1zM74 477h1v1h-1zM113 477h1v1h-1zM142 477h1v1h-1zM176 477h1v1h-1zM257 477h1v1h-1zM271 477h1v1h-1zM400 477h8v1h-8zM74 478h1v1h-1zM114 478h1v1h-1zM142 478h1v1h-1zM177 478h1v1h-1zM256 478h1v1h-1zM272 478h1v1h-1zM322 478h6v1h-6zM399 478h1v1h-1zM408 478h1v1h-1zM74 479h1v1h-1zM115 479h1v1h-1zM141 479h1v1h-1zM177 479h1v1h-1zM255 479h1v1h-1zM273 479h1v1h-1zM321 479h1v1h-1zM328 479h1v1h-1zM398 479h1v1h-1zM409 479h1v1h-1zM73 480h1v1h-1zM116 480h1v1h-1zM141 480h1v1h-1zM178 480h1v1h-1zM253 480h2v1h-2zM274 480h2v1h-2zM319 480h2v1h-2zM329 480h1v1h-1zM398 480h1v1h-1zM410 480h1v1h-1zM73 481h1v1h-1zM116 481h1v1h-1zM141 481h1v1h-1zM179 481h1v1h-1zM252 481h1v1h-1zM276 481h2v1h-2zM318 481h1v1h-1zM329 481h1v1h-1zM397 481h1v1h-1zM411 481h1v1h-1zM73 482h1v1h-1zM117 482h1v1h-1zM141 482h1v1h-1zM180 482h1v1h-1zM251 482h1v1h-1zM278 482h3v1h-3zM317 482h1v1h-1zM330 482h1v1h-1zM396 482h1v1h-1zM411 482h1v1h-1zM73 483h1v1h-1zM118 483h1v1h-1zM140 483h1v1h-1zM181 483h1v1h-1zM250 483h1v1h-1zM281 483h1v1h-1zM314 483h3v1h-3zM330 483h1v1h-1zM395 483h1v1h-1zM412 483h1v1h-1zM72 484h1v1h-1zM119 484h1v1h-1zM139 484h1v1h-1zM182 484h1v1h-1zM249 484h1v1h-1zM282 484h1v1h-1zM311 484h3v1h-3zM331 484h1v1h-1zM395 484h1v1h-1zM413 484h1v1h-1zM72 485h1v1h-1zM120 485h1v1h-1zM139 485h1v1h-1zM183 485h1v1h-1zM248 485h1v1h-1zM283 485h1v1h-1zM308 485h3v1h-3zM331 485h1v1h-1zM394 485h1v1h-1zM413 485h1v1h-1zM72 486h1v1h-1zM121 486h1v1h-1zM138 486h1v1h-1zM184 486h1v1h-1zM247 486h1v1h-1zM284 486h1v1h-1zM302 486h6v1h-6zM332 486h1v1h-1zM388 486h6v1h-6zM414 486h1v1h-1zM71 487h1v1h-1zM122 487h1v1h-1zM138 487h1v1h-1zM185 487h1v1h-1zM247 487h1v1h-1zM285 487h1v1h-1zM301 487h1v1h-1zM332 487h1v1h-1zM387 487h1v1h-1zM414 487h1v1h-1zM71 488h1v1h-1zM122 488h1v1h-1zM137 488h1v1h-1zM186 488h1v1h-1zM246 488h1v1h-1zM286 488h1v1h-1zM301 488h1v1h-1zM332 488h1v1h-1zM386 488h1v1h-1zM415 488h1v1h-1zM71 489h1v1h-1zM123 489h1v1h-1zM137 489h1v1h-1zM186 489h1v1h-1zM245 489h1v1h-1zM287 489h1v1h-1zM300 489h1v1h-1zM333 489h1v1h-1zM385 489h1v1h-1zM415 489h1v1h-1zM70 490h1v1h-1zM124 490h1v1h-1zM136 490h1v1h-1zM187 490h1v1h-1zM244 490h1v1h-1zM288 490h1v1h-1zM300 490h1v1h-1zM333 490h1v1h-1zM385 490h1v1h-1zM416 490h1v1h-1zM70 491h1v1h-1zM125 491h1v1h-1zM135 491h1v1h-1zM187 491h1v1h-1zM243 491h1v1h-1zM289 491h1v1h-1zM299 491h1v1h-1zM334 491h1v1h-1zM384 491h1v1h-1zM416 491h1v1h-1zM70 492h1v1h-1zM126 492h1v1h-1zM134 492h1v1h-1zM188 492h1v1h-1zM243 492h1v1h-1zM290 492h1v1h-1zM299 492h1v1h-1zM335 492h1v1h-1zM383 492h1v1h-1zM417 492h1v1h-1zM70 493h1v1h-1zM127 493h3v1h-3zM133 493h1v1h-1zM188 493h1v1h-1zM242 493h1v1h-1zM291 493h1v1h-1zM298 493h1v1h-1zM335 493h1v1h-1zM382 493h1v1h-1zM417 493h1v1h-1zM69 494h1v1h-1zM130 494h3v1h-3zM189 494h1v1h-1zM241 494h1v1h-1zM291 494h1v1h-1zM297 494h1v1h-1zM336 494h1v1h-1zM382 494h1v1h-1zM418 494h1v1h-1zM69 495h1v1h-1zM190 495h1v1h-1zM240 495h1v1h-1zM292 495h1v1h-1zM297 495h1v1h-1zM337 495h1v1h-1zM381 495h1v1h-1zM418 495h1v1h-1zM69 496h1v1h-1zM191 496h1v1h-1zM240 496h1v1h-1zM293 496h1v1h-1zM296 496h1v1h-1zM338 496h1v1h-1zM381 496h1v1h-1zM419 496h1v1h-1zM69 497h1v1h-1zM192 497h34v1h-34zM239 497h1v1h-1zM294 497h1v1h-1zM296 497h1v1h-1zM339 497h1v1h-1zM380 497h1v1h-1zM419 497h1v1h-1zM69 498h1v1h-1zM226 498h1v1h-1zM238 498h1v1h-1zM295 498h1v1h-1zM340 498h1v1h-1zM380 498h1v1h-1zM420 498h1v1h-1zM68 499h1v1h-1zM227 499h1v1h-1zM237 499h1v1h-1zM340 499h1v1h-1zM379 499h1v1h-1zM420 499h1v1h-1zM68 500h1v1h-1zM228 500h1v1h-1zM236 500h1v1h-1zM341 500h1v1h-1zM379 500h1v1h-1zM421 500h1v1h-1zM68 501h1v1h-1zM229 501h1v1h-1zM232 501h4v1h-4zM341 501h1v1h-1zM378 501h1v1h-1zM421 501h1v1h-1zM68 502h1v1h-1zM230 502h2v1h-2zM342 502h1v1h-1zM378 502h1v1h-1zM422 502h1v1h-1zM68 503h1v1h-1zM343 503h1v1h-1zM377 503h1v1h-1zM422 503h1v1h-1zM68 504h1v1h-1zM343 504h1v1h-1zM377 504h1v1h-1zM423 504h1v1h-1zM68 505h1v1h-1zM344 505h1v1h-1zM376 505h1v1h-1zM423 505h1v1h-1zM67 506h1v1h-1zM345 506h1v1h-1zM375 506h1v1h-1zM423 506h1v1h-1zM67 507h1v1h-1zM345 507h1v1h-1zM374 507h1v1h-1zM424 507h1v1h-1zM67 508h1v1h-1zM346 508h1v1h-1zM371 508h3v1h-3zM424 508h1v1h-1zM67 509h1v1h-1zM347 509h1v1h-1zM366 509h5v1h-5zM425 509h1v1h-1zM348 510h1v1h-1zM363 510h3v1h-3zM425 510h1v1h-1zM348 511h1v1h-1zM362 511h1v1h-1zM426 511h1v1h-1zM349 512h1v1h-1zM361 512h1v1h-1zM426 512h1v1h-1zM350 513h1v1h-1zM360 513h1v1h-1zM426 513h1v1h-1zM506 513h6v1h-6zM350 514h1v1h-1zM359 514h1v1h-1zM427 514h1v1h-1zM504 514h2v1h-2zM512 514h1v1h-1zM351 515h1v1h-1zM358 515h1v1h-1zM428 515h1v1h-1zM503 515h1v1h-1zM513 515h2v1h-2zM351 516h1v1h-1zM358 516h1v1h-1zM428 516h1v1h-1zM502 516h1v1h-1zM515 516h1v1h-1zM352 517h1v1h-1zM357 517h1v1h-1zM429 517h1v1h-1zM501 517h1v1h-1zM516 517h1v1h-1zM353 518h1v1h-1zM356 518h1v1h-1zM429 518h1v1h-1zM500 518h1v1h-1zM517 518h1v1h-1zM353 519h1v1h-1zM355 519h1v1h-1zM430 519h1v1h-1zM498 519h2v1h-2zM518 519h2v1h-2zM354 520h1v1h-1zM430 520h1v1h-1zM496 520h2v1h-2zM520 520h1v1h-1zM431 521h1v1h-1zM494 521h2v1h-2zM521 521h2v1h-2zM431 522h1v1h-1zM493 522h1v1h-1zM523 522h1v1h-1zM432 523h1v1h-1zM491 523h2v1h-2zM524 523h2v1h-2zM433 524h1v1h-1zM489 524h2v1h-2zM526 524h2v1h-2zM434 525h1v1h-1zM486 525h3v1h-3zM528 525h1v1h-1zM435 526h1v1h-1zM484 526h2v1h-2zM529 526h2v1h-2zM436 527h1v1h-1zM479 527h5v1h-5zM531 527h1v1h-1zM437 528h1v1h-1zM451 528h10v1h-10zM469 528h10v1h-10zM532 528h1v1h-1zM438 529h4v1h-4zM449 529h2v1h-2zM461 529h4v1h-4zM466 529h3v1h-3zM533 529h1v1h-1zM442 530h3v1h-3zM446 530h3v1h-3zM465 530h1v1h-1zM534 530h1v1h-1zM445 531h1v1h-1zM535 531h1v1h-1zM581 531h11v1h-11zM536 532h1v1h-1zM579 532h2v1h-2zM592 532h3v1h-3zM537 533h1v1h-1zM577 533h2v1h-2zM595 533h3v1h-3zM538 534h1v1h-1zM569 534h8v1h-8zM598 534h7v1h-7zM539 535h1v1h-1zM567 535h2v1h-2zM605 535h8v1h-8zM540 536h1v1h-1zM566 536h1v1h-1zM613 536h4v1h-4zM541 537h1v1h-1zM556 537h10v1h-10zM617 537h4v1h-4zM542 538h1v1h-1zM553 538h3v1h-3zM621 538h4v1h-4zM543 539h10v1h-10zM625 539h5v1h-5zM630 540h4v1h-4zM634 541h2v1h-2zM636 542h3v1h-3zM666 542h20v1h-20zM639 543h2v1h-2zM664 543h2v1h-2zM686 543h5v1h-5zM708 543h7v1h-7zM641 544h3v1h-3zM663 544h1v1h-1zM691 544h4v1h-4zM705 544h3v1h-3zM644 545h2v1h-2zM658 545h5v1h-5zM695 545h3v1h-3zM703 545h2v1h-2zM646 546h12v1h-12zM698 546h5v1h-5z" fill="#ac59ff"/>
<path d="M123 467h4v1h-4zM118 468h5v1h-5zM127 468h3v1h-3zM115 469h3v1h-3zM130 469h1v1h-1zM113 470h2v1h-2zM131 470h1v1h-1zM111 471h2v1h-2zM132 471h1v1h-1zM109 472h2v1h-2zM133 472h1v1h-1zM145 472h2v1h-2zM107 473h2v1h-2zM134 473h2v1h-2zM144 473h1v1h-1zM147 473h2v1h-2zM162 473h7v1h-7zM105 474h2v1h-2zM136 474h1v1h-1zM143 474h1v1h-1zM149 474h2v1h-2zM154 474h8v1h-8zM169 474h11v1h-11zM102 475h3v1h-3zM137 475h1v1h-1zM140 475h3v1h-3zM151 475h3v1h-3zM180 475h3v1h-3zM100 476h2v1h-2zM138 476h2v1h-2zM183 476h4v1h-4zM194 476h5v1h-5zM97 477h3v1h-3zM187 477h7v1h-7zM199 477h2v1h-2zM94 478h3v1h-3zM201 478h2v1h-2zM90 479h4v1h-4zM203 479h1v1h-1zM88 480h2v1h-2zM204 480h1v1h-1zM301 480h2v1h-2zM87 481h1v1h-1zM205 481h1v1h-1zM299 481h2v1h-2zM303 481h1v1h-1zM85 482h2v1h-2zM205 482h1v1h-1zM296 482h3v1h-3zM304 482h2v1h-2zM84 483h1v1h-1zM206 483h1v1h-1zM293 483h3v1h-3zM306 483h5v1h-5zM83 484h1v1h-1zM207 484h1v1h-1zM280 484h13v1h-13zM311 484h9v1h-9zM82 485h1v1h-1zM207 485h1v1h-1zM261 485h3v1h-3zM276 485h4v1h-4zM320 485h2v1h-2zM80 486h2v1h-2zM208 486h1v1h-1zM258 486h3v1h-3zM264 486h2v1h-2zM272 486h4v1h-4zM322 486h2v1h-2zM79 487h1v1h-1zM209 487h1v1h-1zM256 487h2v1h-2zM266 487h6v1h-6zM324 487h2v1h-2zM78 488h1v1h-1zM210 488h1v1h-1zM253 488h3v1h-3zM326 488h4v1h-4zM77 489h1v1h-1zM210 489h1v1h-1zM251 489h2v1h-2zM330 489h4v1h-4zM76 490h1v1h-1zM211 490h4v1h-4zM250 490h1v1h-1zM334 490h4v1h-4zM75 491h1v1h-1zM215 491h2v1h-2zM248 491h2v1h-2zM338 491h1v1h-1zM409 491h9v1h-9zM74 492h1v1h-1zM217 492h2v1h-2zM246 492h2v1h-2zM339 492h2v1h-2zM404 492h5v1h-5zM418 492h3v1h-3zM73 493h1v1h-1zM219 493h1v1h-1zM244 493h2v1h-2zM341 493h1v1h-1zM400 493h4v1h-4zM421 493h1v1h-1zM73 494h1v1h-1zM220 494h1v1h-1zM243 494h1v1h-1zM342 494h1v1h-1zM399 494h1v1h-1zM422 494h1v1h-1zM72 495h1v1h-1zM221 495h2v1h-2zM241 495h2v1h-2zM343 495h2v1h-2zM360 495h1v1h-1zM397 495h2v1h-2zM423 495h1v1h-1zM71 496h1v1h-1zM223 496h1v1h-1zM240 496h1v1h-1zM345 496h2v1h-2zM358 496h2v1h-2zM361 496h1v1h-1zM396 496h1v1h-1zM424 496h1v1h-1zM71 497h1v1h-1zM224 497h1v1h-1zM238 497h2v1h-2zM347 497h1v1h-1zM356 497h2v1h-2zM362 497h1v1h-1zM394 497h2v1h-2zM425 497h1v1h-1zM70 498h1v1h-1zM225 498h2v1h-2zM237 498h1v1h-1zM348 498h4v1h-4zM354 498h2v1h-2zM363 498h2v1h-2zM393 498h1v1h-1zM426 498h1v1h-1zM70 499h1v1h-1zM227 499h2v1h-2zM233 499h4v1h-4zM352 499h2v1h-2zM365 499h1v1h-1zM391 499h2v1h-2zM427 499h1v1h-1zM70 500h1v1h-1zM229 500h4v1h-4zM366 500h2v1h-2zM390 500h1v1h-1zM428 500h4v1h-4zM69 501h1v1h-1zM368 501h2v1h-2zM389 501h1v1h-1zM432 501h5v1h-5zM69 502h1v1h-1zM370 502h2v1h-2zM387 502h2v1h-2zM437 502h2v1h-2zM69 503h1v1h-1zM372 503h2v1h-2zM381 503h6v1h-6zM439 503h2v1h-2zM68 504h1v1h-1zM374 504h7v1h-7zM441 504h1v1h-1zM68 505h1v1h-1zM442 505h1v1h-1zM68 506h1v1h-1zM443 506h1v1h-1zM68 507h1v1h-1zM444 507h1v1h-1zM67 508h1v1h-1zM445 508h1v1h-1zM67 509h1v1h-1zM446 509h2v1h-2zM448 510h1v1h-1zM449 511h2v1h-2zM451 512h1v1h-1zM452 513h1v1h-1zM453 514h1v1h-1zM454 515h1v1h-1zM455 516h1v1h-1zM456 517h1v1h-1zM457 518h1v1h-1zM458 519h1v1h-1zM459 520h1v1h-1zM460 521h1v1h-1zM504 521h11v1h-11zM461 522h1v1h-1zM502 522h2v1h-2zM515 522h5v1h-5zM462 523h1v1h-1zM501 523h1v1h-1zM520 523h15v1h-15zM463 524h1v1h-1zM499 524h2v1h-2zM535 524h5v1h-5zM464 525h1v1h-1zM492 525h7v1h-7zM540 525h2v1h-2zM465 526h1v1h-1zM487 526h5v1h-5zM542 526h3v1h-3zM466 527h2v1h-2zM484 527h3v1h-3zM545 527h2v1h-2zM468 528h3v1h-3zM481 528h3v1h-3zM547 528h3v1h-3zM471 529h10v1h-10zM550 529h6v1h-6zM556 530h3v1h-3zM559 531h4v1h-4zM563 532h2v1h-2zM565 533h2v1h-2zM567 534h2v1h-2zM587 534h4v1h-4zM603 534h18v1h-18zM569 535h5v1h-5zM581 535h6v1h-6zM591 535h12v1h-12zM621 535h6v1h-6zM574 536h7v1h-7zM627 536h4v1h-4zM631 537h3v1h-3zM634 538h4v1h-4zM638 539h4v1h-4zM642 540h4v1h-4zM646 541h5v1h-5zM666 541h4v1h-4zM651 542h15v1h-15zM670 542h4v1h-4zM710 542h4v1h-4zM674 543h4v1h-4zM698 543h12v1h-12zM678 544h20v1h-20z" fill="#cccc00"/>
<g stroke="none" style="pointer-events:none"><text x="8" y="23.6" font-size="19.75" fill="#999999" stroke="#999999" stroke-width="0.35" font-family="'Liberation Sans', sans-serif">000969</text><text x="78" y="20" font-size="16" fill="#000" font-family="'Liberation Sans', 'Noto Sans CJK SC', sans-serif">安泰科技</text><text x="393" y="20" font-size="15" letter-spacing="-1" fill="#cc0000" font-family="'Liberation Mono', monospace">21.08 +0.17 (+0.81%)</text><text x="66" y="43" font-size="11" letter-spacing="-0.6" fill="#00489c" font-family="'Liberation Mono', monospace">MA5:12.18</text><text x="284" y="43" font-size="11" letter-spacing="-0.6" fill="#ac59ff" font-family="'Liberation Mono', monospace">MA10:12.10</text><text x="503" y="43" font-size="11" letter-spacing="-0.6" fill="#cccc00" font-family="'Liberation Mono', monospace">MA30:12.54</text><text x="66" y="370" font-size="11" letter-spacing="-0.6" fill="#ac59ff" font-family="'Liberation Mono', monospace">MAVOL5:76020</text><text x="393" y="370" font-size="11" letter-spacing="-0.6" fill="#cccc00" font-family="'Liberation Mono', monospace">MAVOL10:75435</text><text x="335" y="209" font-size="20" letter-spacing="-2" fill="#ff0000" font-family="'Liberation Mono', monospace">2016-07-26</text><text x="12" y="63" font-size="11" letter-spacing="-0.6" fill="#cc0000" font-family="'Liberation Mono', monospace">+25.0%</text><text x="722" y="63" font-size="11" letter-spacing="-0.6" fill="#cc0000" font-family="'Liberation Mono', monospace">16.31</text><text x="12" y="102" font-size="11" letter-spacing="-0.6" fill="#cc0000" font-family="'Liberation Mono', monospace">+20.0%</text><text x="722" y="102" font-size="11" letter-spacing="-0.6" fill="#cc0000" font-family="'Liberation Mono', monospace">15.66</text><text x="12" y="141" font-size="11" letter-spacing="-0.6" fill="#cc0000" font-family="'Liberation Mono', monospace">+15.0%</text><text x="722" y="141" font-size="11" letter-spacing="-0.6" fill="#cc0000" font-family="'Liberation Mono', monospace">15.01</text><text x="12" y="179" font-size="11" letter-spacing="-0.6" fill="#cc0000" font-family="'Liberation Mono', monospace">+10.0%</text><text x="722" y="179" font-size="11" letter-spacing="-0.6" fill="#cc0000" font-family="'Liberation Mono', monospace">14.36</text><text x="12" y="218" font-size="11" letter-spacing="-0.6" fill="#cc0000" font-family="'Liberation Mono', monospace">+5.0%</text><text x="722" y="218" font-size="11" letter-spacing="-0.6" fill="#cc0000" font-family="'Liberation Mono', monospace">13.70</text><text x="12" y="257" font-size="11" letter-spacing="-0.6" fill="#000000" font-family="'Liberation Mono', monospace">+0.0%</text><text x="722" y="257" font-size="11" letter-spacing="-0.6" fill="#000000" font-family="'Liberation Mono', monospace">13.05</text><text x="12" y="296" font-size="11" letter-spacing="-0.6" fill="#009300" font-family="'Liberation Mono', monospace">-5.0%</text><text x="722" y="296" font-size="11" letter-spacing="-0.6" fill="#009300" font-family="'Liberation Mono', monospace">12.40</text><text x="12" y="335" font-size="11" letter-spacing="-0.6" fill="#009300" font-family="'Liberation Mono', monospace">-10.0%</text><text x="722" y="335" font-size="11" letter-spacing="-0.6" fill="#009300" font-family="'Liberation Mono', monospace">11.75</text><text x="724" y="378" font-size="11" letter-spacing="-0.6" fill="#000000" font-family="'Liberation Mono', monospace">800000</text><text x="724" y="401" font-size="11" letter-spacing="-0.6" fill="#000000" font-family="'Liberation Mono', monospace">700000</text><text x="724" y="424" font-size="11" letter-spacing="-0.6" fill="#000000" font-family="'Liberation Mono', monospace">600000</text><text x="724" y="447" font-size="11" letter-spacing="-0.6" fill="#000000" font-family="'Liberation Mono', monospace">500000</text><text x="724" y="470" font-size="11" letter-spacing="-0.6" fill="#000000" font-family="'Liberation Mono', monospace">400000</text><text x="724" y="493" font-size="11" letter-spacing="-0.6" fill="#000000" font-family="'Liberation Mono', monospace">300000</text><text x="724" y="516" font-size="11" letter-spacing="-0.6" fill="#000000" font-family="'Liberation Mono', monospace">200000</text><text x="724" y="540" font-size="11" letter-spacing="-0.6" fill="#000000" font-family="'Liberation Mono', monospace">100000</text><text x="136" y="581" font-size="11" letter-spacing="-0.6" fill="#000000" font-family="'Liberation Mono', 'Noto Sans CJK SC', monospace">6月</text><text x="267" y="581" font-size="11" letter-spacing="-0.6" fill="#000000" font-family="'Liberation Mono', 'Noto Sans CJK SC', monospace">7月</text><text x="404" y="581" font-size="11" letter-spacing="-0.6" fill="#000000" font-family="'Liberation Mono', 'Noto Sans CJK SC', monospace">8月</text><text x="554" y="581" font-size="11" letter-spacing="-0.6" fill="#000000" font-family="'Liberation Mono', 'Noto Sans CJK SC', monospace">9月</text><text x="682" y="581" font-size="11" letter-spacing="-0.6" fill="#000000" font-family="'Liberation Mono', 'Noto Sans CJK SC', monospace">10月</text></g></svg></body></html>
